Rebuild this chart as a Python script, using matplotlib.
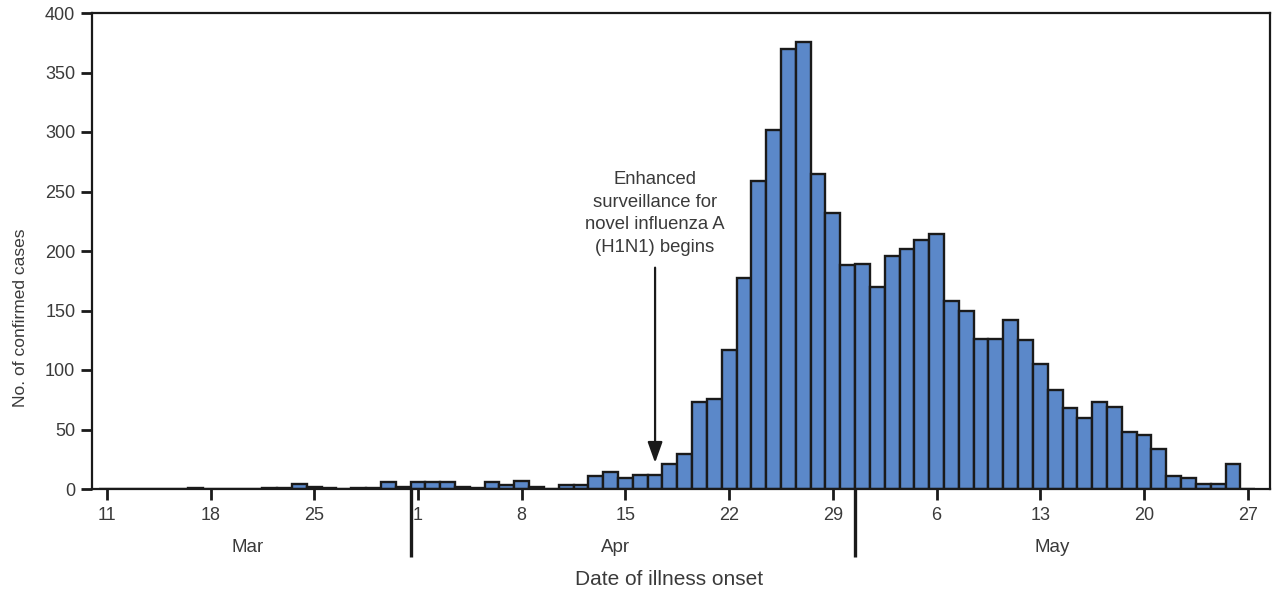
import matplotlib
matplotlib.use("Agg")
import matplotlib.pyplot as plt
import matplotlib.transforms as mtransforms
import numpy as np

# Daily confirmed cases, Mar 11 .. May 27
cases_mar = [0, 0, 0, 0, 0, 0, 1, 0, 0, 0, 0, 1, 1, 4, 2, 1, 0, 1, 1, 6, 2]          # Mar 11-31
cases_apr = [6, 6, 6, 2, 1, 6, 3, 7, 2, 0, 3, 3, 11, 14, 9, 12, 12, 21, 29, 73,
             76, 117, 177, 259, 302, 370, 376, 265, 232, 188]                         # Apr 1-30
cases_may = [189, 170, 196, 202, 209, 214, 158, 150, 126, 126, 142, 125, 105, 83,
             68, 60, 73, 69, 48, 45, 34, 11, 9, 4, 4, 21, 0]                          # May 1-27

tick_labels = ["11", "18", "25", "1", "8", "15", "22", "29", "6", "13", "20", "27"]
months = ["Mar", "Apr", "May"]
y_ticks = [0, 50, 100, 150, 200, 250, 300, 350, 400]
annotation_text = "Enhanced\nsurveillance for\nnovel influenza A\n(H1N1) begins"
x_label = "Date of illness onset"
y_label = "No. of confirmed cases"

cases = cases_mar + cases_apr + cases_may
days = np.arange(len(cases))

plt.rcParams['font.family'] = ['Liberation Sans', 'DejaVu Sans']
text_color = '#3a3a3a'

fig = plt.figure(figsize=(12.77, 6.02), dpi=100)
ax = fig.add_axes([92/1277, 1 - 489/602, (1270-92)/1277, (489-13)/602])

ax.bar(days, cases, width=1.0, color='#5b88c9', edgecolor='#1a1a1a', linewidth=1.7, zorder=2)

ax.set_xlim(-1.0, 78.5)
ax.set_ylim(0, 400)

tick_pos = np.arange(0, len(cases), 7)
ax.set_xticks(tick_pos)
ax.set_xticklabels(tick_labels)
ax.set_yticks(y_ticks)
ax.set_yticklabels([str(v) for v in y_ticks])

for s in ax.spines.values():
    s.set_linewidth(1.6)
    s.set_color('#1a1a1a')

ax.tick_params(axis='both', direction='out', length=8, width=2.0, color='#1a1a1a',
               labelsize=13, labelcolor=text_color)
ax.tick_params(axis='x', pad=5)
ax.tick_params(axis='y', pad=4)

trans = mtransforms.blended_transform_factory(ax.transData, ax.transAxes)
# month separators
for sep in [len(cases_mar) - 0.5, len(cases_mar) + len(cases_apr) - 0.5]:
    ax.plot([sep, sep], [0, -0.143], transform=trans, color='#1a1a1a', lw=2.4,
            clip_on=False, solid_capstyle='butt')

month_pos = [9.5, 34.3, 63.8]
for m, p in zip(months, month_pos):
    ax.text(p, -0.122, m, transform=trans, ha='center', va='center', fontsize=13.5,
            color=text_color)

ax.text(0.49, -0.191, x_label, transform=ax.transAxes, ha='center', va='center',
        fontsize=15, color=text_color)
ax.text(-0.061, 0.36, y_label, transform=ax.transAxes, ha='center', va='center',
        rotation=90, fontsize=12.5, color=text_color)

# annotation
arrow_day = 37
ax.text(arrow_day, 196, annotation_text, ha='center', va='bottom', fontsize=13.3,
        color=text_color, linespacing=1.42)
ax.annotate('', xy=(arrow_day, 22), xytext=(arrow_day, 186),
            arrowprops=dict(arrowstyle='-|>,head_length=0.7,head_width=0.25', lw=1.6,
                            color='#1a1a1a', mutation_scale=18, shrinkA=0, shrinkB=0))

fig.savefig('out.png', dpi=100)
